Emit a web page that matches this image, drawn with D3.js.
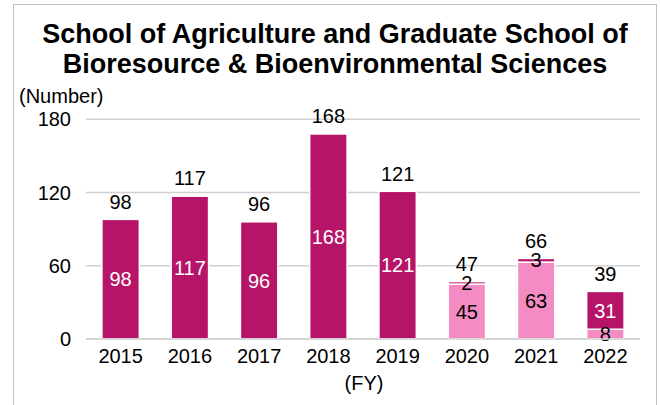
<!DOCTYPE html>
<html>
<head>
<meta charset="utf-8">
<script src="https://cdn.jsdelivr.net/npm/d3@7"></script>
<style>
  body { margin: 0; background: #fff; }
  text { font-family: "Liberation Sans", Arial, sans-serif; }
</style>
</head>
<body>
<div id="chart"></div>
<script>
// Chart data
const years = ["2015", "2016", "2017", "2018", "2019", "2020", "2021", "2022"];
const lightValues = [0, 0, 0, 0, 0, 45, 63, 8];        // bottom (pink) series
const darkValues = [98, 117, 96, 168, 121, 2, 3, 31];   // top (magenta) series
const yTicks = [0, 60, 120, 180];
const titleLines = ["School of Agriculture and Graduate School of", "Bioresource & Bioenvironmental Sciences"];

const W = 660, H = 405;
const margin = { top: 119, right: 20, bottom: 66, left: 86 };

const svg = d3.select("#chart").append("svg")
  .attr("width", W)
  .attr("height", H);

// Outer frame
svg.append("rect")
  .attr("x", 13.5).attr("y", 4.5)
  .attr("width", 643).attr("height", 420)
  .attr("fill", "#fff")
  .attr("stroke", "#bfbfbf")
  .attr("stroke-width", 1);

const x = d3.scaleBand()
  .domain(years)
  .range([margin.left, 640])
  .paddingInner(0.46)
  .paddingOuter(0.23);

const y = d3.scaleLinear()
  .domain([0, 180])
  .range([339, 119.3]);

// Gridlines
svg.append("g")
  .selectAll("line")
  .data(yTicks)
  .join("line")
  .attr("x1", margin.left).attr("x2", 640)
  .attr("y1", d => y(d)).attr("y2", d => y(d))
  .attr("stroke", "#d0d0d0")
  .attr("stroke-width", 1.5);

// Y tick labels
svg.append("g")
  .selectAll("text")
  .data(yTicks)
  .join("text")
  .attr("x", 71)
  .attr("y", d => y(d))
  .attr("dy", "0.35em")
  .attr("text-anchor", "end")
  .attr("font-size", 20)
  .attr("fill", "#000")
  .text(d => d);

// Stack the two series
const rows = years.map((yr, i) => ({ year: yr, light: lightValues[i], dark: darkValues[i] }));
const series = d3.stack().keys(["light", "dark"])(rows);
const colors = { light: "#f48cc3", dark: "#b51469" };

const layers = svg.append("g")
  .selectAll("g")
  .data(series)
  .join("g")
  .attr("fill", d => colors[d.key]);

layers.selectAll("rect")
  .data(d => d.filter(p => p[1] - p[0] > 0))
  .join("rect")
  .attr("x", d => x(d.data.year))
  .attr("width", x.bandwidth())
  .attr("y", d => y(d[1]))
  .attr("height", d => y(d[0]) - y(d[1]))
  .attr("stroke", "#fff")
  .attr("stroke-width", 1.5);

// Segment labels
series.forEach(s => {
  svg.append("g")
    .selectAll("text")
    .data(s.filter(p => p[1] - p[0] > 0))
    .join("text")
    .attr("x", d => x(d.data.year) + x.bandwidth() / 2)
    .attr("y", d => (y(d[0]) + y(d[1])) / 2)
    .attr("dy", "0.36em")
    .attr("text-anchor", "middle")
    .attr("font-size", 20)
    .attr("fill", d => (s.key === "dark" && y(d[0]) - y(d[1]) > 14) ? "#fff" : "#000")
    .text(d => d[1] - d[0]);
});

// Totals above bars
svg.append("g")
  .selectAll("text")
  .data(rows)
  .join("text")
  .attr("x", d => x(d.year) + x.bandwidth() / 2)
  .attr("y", d => y(d.light + d.dark) - 18)
  .attr("dy", "0.36em")
  .attr("text-anchor", "middle")
  .attr("font-size", 20)
  .attr("fill", "#000")
  .text(d => d.light + d.dark);

// X axis line and labels
svg.append("line")
  .attr("x1", margin.left).attr("x2", 640)
  .attr("y1", y(0)).attr("y2", y(0))
  .attr("stroke", "#d0d0d0")
  .attr("stroke-width", 1.5);

svg.append("g")
  .selectAll("text")
  .data(years)
  .join("text")
  .attr("x", d => x(d) + x.bandwidth() / 2)
  .attr("y", 356)
  .attr("dy", "0.35em")
  .attr("text-anchor", "middle")
  .attr("font-size", 20)
  .attr("fill", "#000")
  .text(d => d);

svg.append("text")
  .attr("x", 364)
  .attr("y", 383)
  .attr("dy", "0.35em")
  .attr("text-anchor", "middle")
  .attr("font-size", 20)
  .text("(FY)");

// Axis unit
svg.append("text")
  .attr("x", 19)
  .attr("y", 96)
  .attr("dy", "0.35em")
  .attr("font-size", 20)
  .text("(Number)");

// Title
svg.append("g")
  .selectAll("text")
  .data(titleLines)
  .join("text")
  .attr("x", 335)
  .attr("y", (d, i) => 34 + i * 29.5)
  .attr("dy", "0.35em")
  .attr("text-anchor", "middle")
  .attr("font-size", 27)
  .attr("font-weight", "bold")
  .text(d => d);
</script>
</body>
</html>
